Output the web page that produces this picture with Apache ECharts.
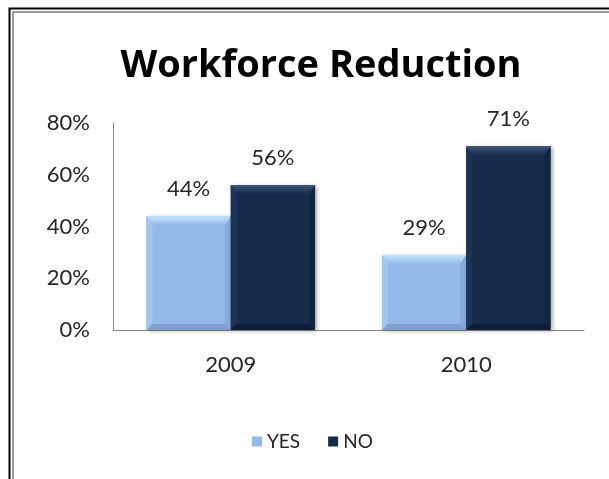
<!DOCTYPE html>
<html>
<head>
<meta charset="utf-8">
<script src="https://cdn.jsdelivr.net/npm/echarts@6/dist/echarts.min.js"></script>
<style>
  html, body { margin: 0; padding: 0; background: #fff; }
  #chart { width: 609px; height: 479px; }
</style>
</head>
<body>
<div id="chart"></div>
<script>
// Share of respondents reporting a workforce reduction, per year
const years = ['2009', '2010'];
const yesValues = [44, 29];
const noValues = [56, 71];
const yTicks = [0, 20, 40, 60, 80];

// Bevelled bar colours: face, top, left, right, bottom
const palettes = [
  { face: '#95B9EB', top: '#C4E6FB', left: '#A3C6F1', right: '#87ABDD', bottom: '#809FCE' },
  { face: '#172B4A', top: '#3D567A', left: '#1E3456', right: '#12243F', bottom: '#0F1E36' }
];

const FONT = 'Lato, "Open Sans", sans-serif';
const TITLE_FONT = '"Open Sans", Lato, sans-serif';

function bevelBar(params, api) {
  const cat = api.value(0);
  const val = api.value(1);
  const topPt = api.coord([cat, val]);
  const basePt = api.coord([cat, 0]);
  const band = api.size([1, 0])[0];
  const w = band * 0.358;
  const x0 = topPt[0] + (params.seriesIndex === 0 ? -w : 0);
  const x1 = x0 + w;
  const y0 = topPt[1];
  const y1 = basePt[1];
  const bt = Math.min(9, (y1 - y0) / 2);
  const bs = 6;
  const p = palettes[params.seriesIndex];
  return {
    type: 'group',
    children: [
      { type: 'rect', shape: { x: x0, y: y0, width: w, height: y1 - y0 },
        style: { fill: p.face, shadowBlur: 4, shadowOffsetX: 2, shadowOffsetY: 1, shadowColor: 'rgba(0,0,0,0.3)' } },
      { type: 'polygon', shape: { points: [[x0, y0], [x0 + bs, y0 + bt], [x0 + bs, y1 - bs], [x0, y1]] }, style: { fill: p.left } },
      { type: 'polygon', shape: { points: [[x1, y0], [x1 - bs, y0 + bt], [x1 - bs, y1 - bs], [x1, y1]] }, style: { fill: p.right } },
      { type: 'polygon', shape: { points: [[x0, y1], [x0 + bs, y1 - bs], [x1 - bs, y1 - bs], [x1, y1]] }, style: { fill: p.bottom } },
      { type: 'polygon', shape: { points: [[x0, y0], [x1, y0], [x1 - bs, y0 + bt], [x0 + bs, y0 + bt]] },
        style: { fill: new echarts.graphic.LinearGradient(0, 0, 0, 1, [
          { offset: 0, color: p.top }, { offset: 1, color: p.face }]) } },
      { type: 'text', style: { text: val + '%', x: (x0 + x1) / 2, y: y0 - 16, align: 'center', verticalAlign: 'bottom',
          font: '22px ' + FONT, fill: '#262626' } }
    ]
  };
}

const chart = echarts.init(document.getElementById('chart'));
chart.setOption({
  backgroundColor: '#ffffff',
  animation: false,
  title: {
    text: 'Workforce Reduction',
    left: 316, top: 42, textAlign: 'center',
    textStyle: { fontFamily: TITLE_FONT, fontWeight: 'bold', fontSize: 38, color: '#000' }
  },
  graphic: [
    { type: 'rect', shape: { x: 9.5, y: 8.5, width: 700, height: 600 }, style: { fill: 'none', stroke: '#000', lineWidth: 2 }, silent: true },
    { type: 'rect', shape: { x: 13, y: 12, width: 700, height: 600 }, style: { fill: 'none', stroke: '#9a9a9a', lineWidth: 2 }, silent: true }
  ],
  grid: { left: 113, right: 25, top: 123, bottom: 149 },
  legend: {
    data: ['YES', 'NO'],
    top: 427, left: 247,
    icon: 'rect', itemWidth: 10, itemHeight: 10, itemGap: 28,
    textStyle: { fontFamily: FONT, fontSize: 19, color: '#262626' }
  },
  xAxis: {
    type: 'category',
    data: years,
    axisLine: { lineStyle: { color: '#888', width: 1 } },
    axisTick: { show: false },
    axisLabel: { fontFamily: FONT, fontSize: 22, color: '#262626', margin: 24 }
  },
  yAxis: {
    type: 'value',
    min: yTicks[0], max: yTicks[yTicks.length - 1], interval: 20,
    splitLine: { show: false },
    axisLine: { show: true, lineStyle: { color: '#888', width: 1 } },
    axisTick: { show: false },
    axisLabel: { fontFamily: FONT, fontSize: 22, color: '#262626', margin: 23, formatter: '{value}%' }
  },
  series: [
    { name: 'YES', type: 'custom', renderItem: bevelBar, itemStyle: { color: palettes[0].face },
      data: years.map((y, i) => [i, yesValues[i]]), encode: { x: 0, y: 1 } },
    { name: 'NO', type: 'custom', renderItem: bevelBar, itemStyle: { color: palettes[1].face },
      data: years.map((y, i) => [i, noValues[i]]), encode: { x: 0, y: 1 } }
  ]
});
</script>
</body>
</html>
